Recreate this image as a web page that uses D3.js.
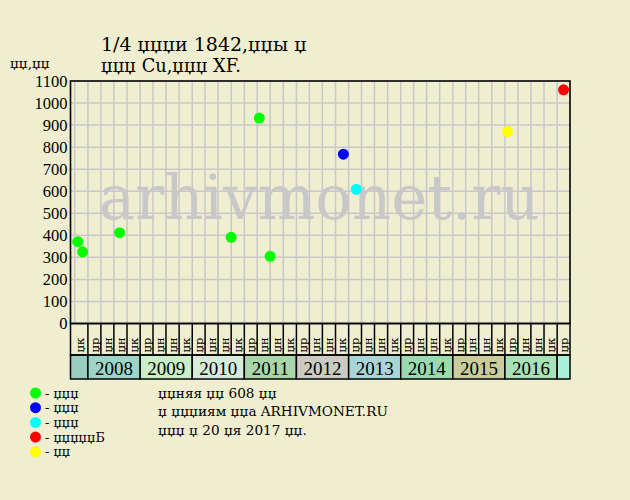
<!DOCTYPE html>
<html><head><meta charset="utf-8">
<script src="https://cdn.jsdelivr.net/npm/d3@7"></script>
<style>
body{margin:0;background:#f0eed0;}
svg{display:block;font-family:"DejaVu Serif",serif;}
</style>
</head><body>
<svg id="c" width="630" height="500"></svg>
<script>
// ---- data ----
const titleLines = ["1/4 џџџи 1842,џџы џ", "џџџ Cu,џџџ XF."];
const yAxisTitle = "џџ,џџ";
const yTicks = [0,100,200,300,400,500,600,700,800,900,1000,1100];
const quarterLabels = ["џр","џн","џн","џк"];
const years = [2007,2008,2009,2010,2011,2012,2013,2014,2015,2016,2017];
const yearColors = ["#99cdc0","#9cd5c8","#c9eec9","#d6ecda","#a9d5aa","#cccbc1","#a9d4d8","#9bd9b1","#c9cc9d","#a9e0b8","#aaf0d8"];
const labeledYears = [2008,2009,2010,2011,2012,2013,2014,2015,2016];
const legendLabels = ["- џџџ","- џџџ","- џџџ","- џџџџџБ","- џџ"];
const legendColors = ["#00ff00","#0000ff","#00ffff","#ff0000","#ffff00"];
const greenDates  = ["2007-10-22","2007-11-25","2008-08-10","2010-10-01","2011-04-16","2011-07-01"];
const greenValues = [371, 325, 412, 391, 932, 305];
const blueDates   = ["2012-11-25"];
const blueValues  = [768];
const cyanDates   = ["2013-02-24"];
const cyanValues  = [609];
const redDates    = ["2017-02-15"];
const redValues   = [1060];
const yellowDates = ["2016-01-19"];
const yellowValues= [871];
const noteLines = ["џџняя џџ 608 џџ", "џ џџџиям џџа ARHIVMONET.RU", "џџџ џ 20 џя 2017 џџ."];
const watermark = "arhivmonet.ru";
const domainStart = "2007-09-01", domainEnd = "2017-04-01";

// ---- drawing ----
const parse = d3.utcParse("%Y-%m-%d");
const svg = d3.select("#c");
const L = 70.5, R = 570, T = 81, B = 323.5;
const x = d3.scaleUtc().domain([parse(domainStart), parse(domainEnd)]).range([L, R]);
const y = d3.scaleLinear().domain([0, 1100]).range([B, T]);
const grid = "#c8c8c8";

svg.append("rect").attr("width",630).attr("height",500).attr("fill","#f0eed0");

// grid
const qStarts = d3.utcMonth.every(3).range(parse("2007-10-01"), parse(domainEnd));
svg.append("g").selectAll("line").data(yTicks.filter(v => v>0 && v<1100)).join("line")
  .attr("x1",L).attr("x2",R).attr("y1",d=>y(d)).attr("y2",d=>y(d))
  .attr("stroke",grid).attr("stroke-width",1.5);
svg.append("g").selectAll("line").data(qStarts).join("line")
  .attr("x1",d=>x(d)).attr("x2",d=>x(d)).attr("y1",T).attr("y2",B)
  .attr("stroke",grid).attr("stroke-width",1.5);

// watermark
svg.append("text").attr("x",(L+R)/2-1).attr("y",219).attr("text-anchor","middle")
  .attr("font-family","'DejaVu Serif',serif").attr("font-size",61).attr("fill","#c8c8c8")
  .text(watermark);

// y axis labels
const yAxis = d3.axisLeft(y).tickValues(yTicks).tickFormat(d3.format("d")).tickSize(0).tickPadding(3);
const ya = svg.append("g").attr("transform",`translate(${L},0)`).call(yAxis);
ya.select(".domain").remove();
ya.selectAll("text").attr("font-family","'Liberation Serif',serif").attr("font-size",16.5).attr("fill","#000");

// label row + year band
const rowTop = B, rowBot = 355, bandBot = 379;
const cols = qStarts.map(d => {
  const x0 = Math.max(L, x(d));
  const x1 = Math.min(R, x(d3.utcMonth.offset(d, 3)));
  return {d, x0: d.getUTCFullYear()===2007 ? L : x0, x1};
});
const yearRects = years.map((yr,i) => ({yr, color: yearColors[i],
  x0: Math.max(L, x(new Date(Date.UTC(yr,0,1)))), x1: Math.min(R, x(new Date(Date.UTC(yr+1,0,1))))}));
svg.append("g").selectAll("rect").data(yearRects).join("rect")
  .attr("x",d=>d.x0).attr("y",rowBot).attr("width",d=>d.x1-d.x0).attr("height",bandBot-rowBot)
  .attr("fill",d=>d.color).attr("stroke","#000").attr("stroke-width",1.5);
svg.append("g").selectAll("text").data(yearRects.filter(d=>labeledYears.includes(d.yr))).join("text")
  .attr("x",d=>(d.x0+d.x1)/2).attr("y",374.5).attr("text-anchor","middle")
  .attr("font-family","'Liberation Serif',serif").attr("font-size",19).attr("fill","#000").text(d=>d.yr);
svg.append("rect").attr("x",L).attr("y",rowTop).attr("width",R-L).attr("height",rowBot-rowTop)
  .attr("fill","none").attr("stroke","#000").attr("stroke-width",1.5);
svg.append("g").selectAll("line").data(cols.slice(1)).join("line")
  .attr("x1",d=>d.x0).attr("x2",d=>d.x0).attr("y1",rowTop).attr("y2",rowBot)
  .attr("stroke","#000").attr("stroke-width",1.5);
svg.append("g").selectAll("text").data(cols).join("text")
  .attr("transform",d=>`translate(${(d.x0+d.x1)/2+4.3},${rowBot-2.5}) rotate(-90)`)
  .attr("font-size",11.5).attr("fill","#000")
  .text(d=>quarterLabels[d.d.getUTCMonth()/3]);

// plot border
svg.append("rect").attr("x",L).attr("y",T).attr("width",R-L).attr("height",B-T)
  .attr("fill","none").attr("stroke","#000").attr("stroke-width",1.6);

// points
const series = [
  {dates:greenDates, values:greenValues, color:legendColors[0]},
  {dates:blueDates, values:blueValues, color:legendColors[1]},
  {dates:cyanDates, values:cyanValues, color:legendColors[2]},
  {dates:redDates, values:redValues, color:legendColors[3]},
  {dates:yellowDates, values:yellowValues, color:legendColors[4]},
];
series.forEach(s => {
  svg.append("g").selectAll("circle").data(s.dates.map((d,i)=>({d:parse(d), v:s.values[i]}))).join("circle")
    .attr("cx",d=>x(d.d)).attr("cy",d=>y(d.v)).attr("r",5.5).attr("fill",s.color);
});

// titles
svg.append("text").attr("x",101).attr("y",51).attr("font-size",19).attr("fill","#000").text(titleLines[0]);
svg.append("text").attr("x",101).attr("y",72).attr("font-size",17.8).attr("fill","#000").text(titleLines[1]);
svg.append("text").attr("x",10).attr("y",68).attr("font-size",13.5).attr("fill","#000").text(yAxisTitle);

// legend
const lg = svg.append("g");
lg.selectAll("circle").data(legendColors).join("circle")
  .attr("cx",35.5).attr("cy",(d,i)=>393+i*14.7).attr("r",5.5).attr("fill",d=>d);
lg.selectAll("text").data(legendLabels).join("text")
  .attr("x",45).attr("y",(d,i)=>397.5+i*14.7).attr("font-size",12.8).attr("fill","#000").text(d=>d);

// notes
svg.append("g").selectAll("text").data(noteLines).join("text")
  .attr("x",158).attr("y",(d,i)=>397.5+i*18.7).attr("font-size",13.6).attr("fill","#000").text(d=>d);
</script>
</body></html>
